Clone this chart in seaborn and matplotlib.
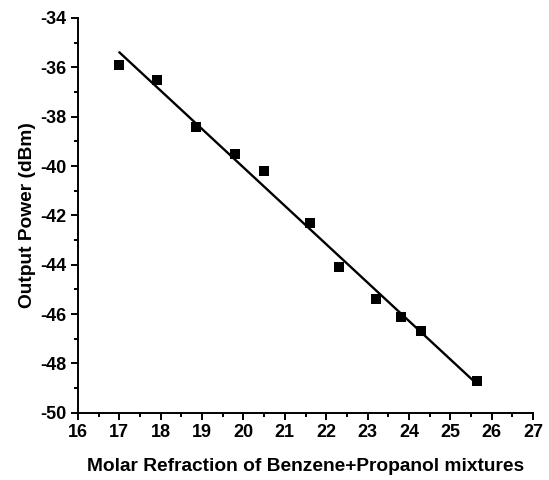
import matplotlib
matplotlib.use('Agg')
import matplotlib.pyplot as plt
import seaborn as sns
import pandas as pd
from matplotlib.ticker import MultipleLocator

molar_refraction = [17.0, 17.9, 18.85, 19.8, 20.5, 21.6, 22.3, 23.2, 23.8, 24.3, 25.65]
output_power = [-35.9, -36.5, -38.4, -39.5, -40.2, -42.3, -44.1, -45.4, -46.1, -46.7, -48.7]

df = pd.DataFrame({'x': molar_refraction, 'y': output_power})

sns.set_style('ticks')
plt.rcParams['font.family'] = ['Liberation Sans', 'DejaVu Sans']
plt.rcParams['font.weight'] = 'bold'
plt.rcParams['axes.unicode_minus'] = False
# seaborn's grey text -> plain black like the original
for key in ['text.color', 'axes.labelcolor', 'xtick.color', 'ytick.color']:
    plt.rcParams[key] = 'black'

fig = plt.figure(figsize=(5.49, 4.8), dpi=100)
ax = fig.add_axes([0.142, 0.14, 0.829, 0.8225])

sns.regplot(data=df, x='x', y='y', ci=None, ax=ax, marker='s',
            scatter_kws={'color': 'black', 's': 50, 'linewidths': 0, 'alpha': 1},
            line_kws={'color': 'black', 'linewidth': 1.7})

ax.set_xlim(16, 27)
ax.set_ylim(-50, -34)
ax.xaxis.set_major_locator(MultipleLocator(1))
ax.xaxis.set_minor_locator(MultipleLocator(0.5))
ax.yaxis.set_major_locator(MultipleLocator(2))
ax.yaxis.set_minor_locator(MultipleLocator(1))
ax.tick_params(which='major', length=5, width=1.4, labelsize=13, direction='out', pad=3)
ax.tick_params(which='minor', length=3, width=1.4, direction='out')
for lab in ax.get_xticklabels() + ax.get_yticklabels():
    lab.set_fontweight('bold')

sns.despine(ax=ax)
for s in ['left', 'bottom']:
    ax.spines[s].set_linewidth(1.4)
    ax.spines[s].set_color('black')

ax.set_xlabel('Molar Refraction of Benzene+Propanol mixtures', fontsize=13.8, fontweight='bold', labelpad=12)
ax.set_ylabel('Output Power (dBm)', fontsize=13.8, fontweight='bold', labelpad=3)

fig.savefig('out.png', dpi=100)
plt.close(fig)
